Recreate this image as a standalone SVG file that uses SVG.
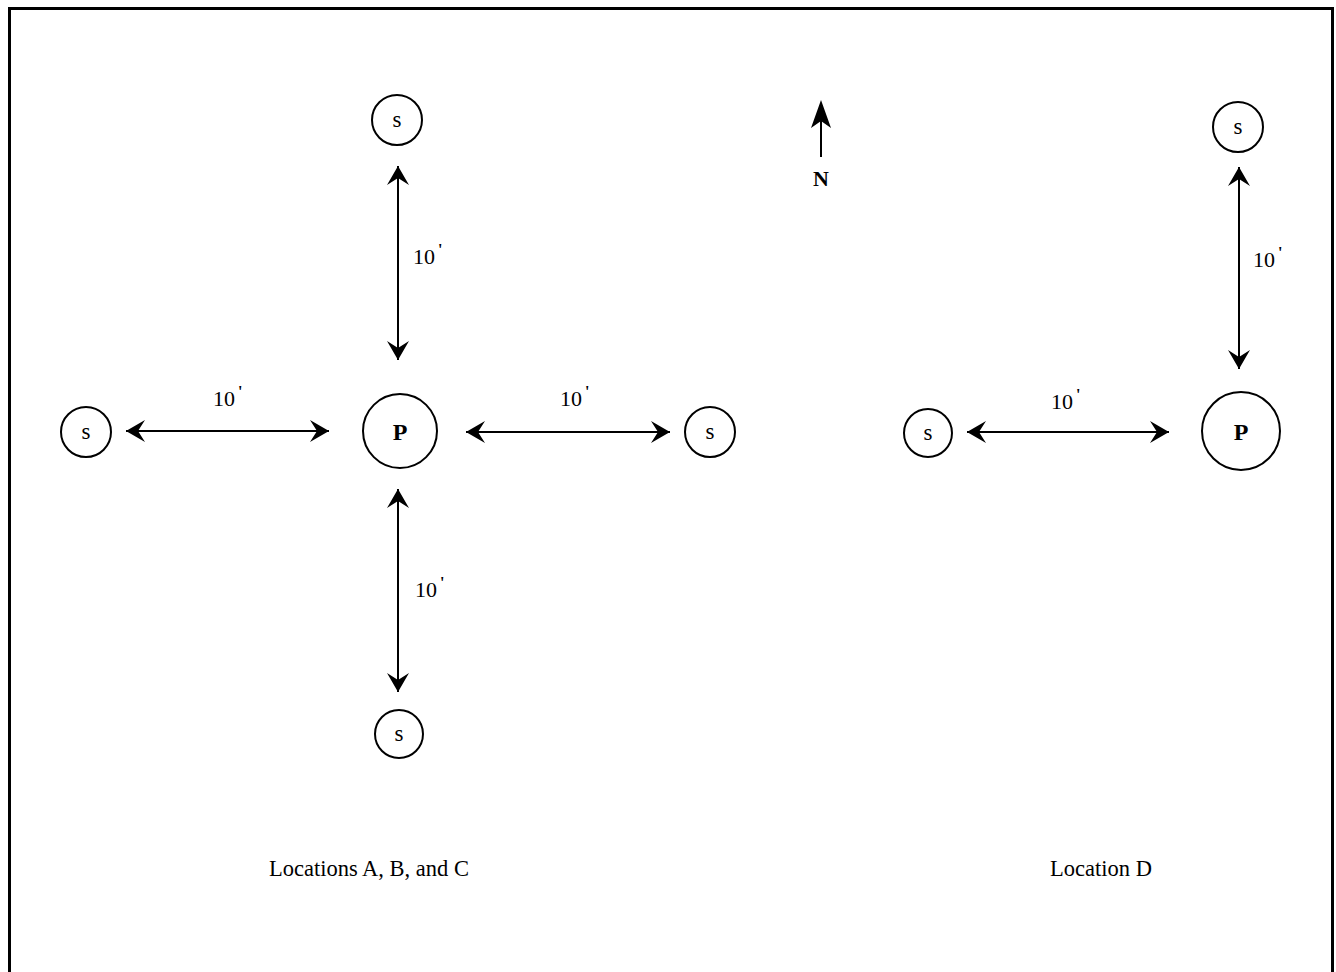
<svg xmlns="http://www.w3.org/2000/svg" width="1336" height="972" viewBox="0 0 1336 972">
<style>
.node circle{fill:none;stroke:#000;stroke-width:2}
.s{font-family:"Liberation Serif",serif;font-size:23px;text-anchor:middle;fill:#000}
.p{font-family:"Liberation Serif",serif;font-size:24px;font-weight:bold;text-anchor:middle;fill:#000}
.lbl{font-family:"Liberation Serif",serif;font-size:22px;fill:#000}
.cap{font-family:"Liberation Serif",serif;font-size:22.5px;text-anchor:middle;fill:#000}
.conn line{stroke:#000;stroke-width:2;marker-start:url(#ah);marker-end:url(#ah)}
</style>
<defs>
<marker id="ah" viewBox="-22 -12 24 24" refX="0" refY="0" markerWidth="24" markerHeight="24" markerUnits="userSpaceOnUse" orient="auto-start-reverse">
<path d="M0,0 L-19,-11 L-12,0 L-19,11 Z" fill="#000"/>
</marker>
</defs>
<rect width="1336" height="972" fill="#fff"/>
<path d="M9.5,990 V8.5 H1332.5 V990" fill="none" stroke="#000" stroke-width="3"/>
<g id="s-top"><g class="node"><circle cx="397" cy="120" r="25"/><text class="s" x="397" y="127">s</text></g></g>
<g id="p-left"><g class="node"><circle cx="400" cy="431" r="37"/><text class="p" x="400" y="440">P</text></g></g>
<g id="s-west"><g class="node"><circle cx="86" cy="432" r="25"/><text class="s" x="86" y="439">s</text></g></g>
<g id="s-east"><g class="node"><circle cx="710" cy="432" r="25"/><text class="s" x="710" y="439">s</text></g></g>
<g id="s-bottom"><g class="node"><circle cx="399" cy="734" r="24"/><text class="s" x="399" y="741">s</text></g></g>
<g id="s-d-top"><g class="node"><circle cx="1238" cy="127" r="25"/><text class="s" x="1238" y="134">s</text></g></g>
<g id="p-d"><g class="node"><circle cx="1241" cy="431" r="39"/><text class="p" x="1241" y="440">P</text></g></g>
<g id="s-d-west"><g class="node"><circle cx="928" cy="433" r="24"/><text class="s" x="928" y="440">s</text></g></g>
<g id="north">
<line x1="821" y1="157" x2="821" y2="110" stroke="#000" stroke-width="2"/>
<path d="M821,100 L811,128 L821,121 L831,128 Z" fill="#000"/>
<text x="821" y="186" style="font-family:'Liberation Serif',serif;font-size:22px;font-weight:bold;text-anchor:middle">N</text>
</g>
<g id="connectors" class="conn">
<line x1="398" y1="166" x2="398" y2="360"/>
<line x1="126" y1="431" x2="329" y2="431"/>
<line x1="466" y1="432" x2="670" y2="432"/>
<line x1="398" y1="489" x2="398" y2="692"/>
<line x1="1239" y1="167" x2="1239" y2="369"/>
<line x1="967" y1="432" x2="1169" y2="432"/>
</g>
<g id="labels">
<text class="lbl" x="413" y="264">10<tspan dx="3" dy="-9" font-size="16" font-weight="bold">'</tspan></text>
<text class="lbl" x="213" y="406">10<tspan dx="3" dy="-9" font-size="16" font-weight="bold">'</tspan></text>
<text class="lbl" x="560" y="406">10<tspan dx="3" dy="-9" font-size="16" font-weight="bold">'</tspan></text>
<text class="lbl" x="415" y="597">10<tspan dx="3" dy="-9" font-size="16" font-weight="bold">'</tspan></text>
<text class="lbl" x="1253" y="267">10<tspan dx="3" dy="-9" font-size="16" font-weight="bold">'</tspan></text>
<text class="lbl" x="1051" y="409">10<tspan dx="3" dy="-9" font-size="16" font-weight="bold">'</tspan></text>
<text class="cap" x="369" y="876">Locations A, B, and C</text>
<text class="cap" x="1101" y="876">Location D</text>
</g>
</svg>
